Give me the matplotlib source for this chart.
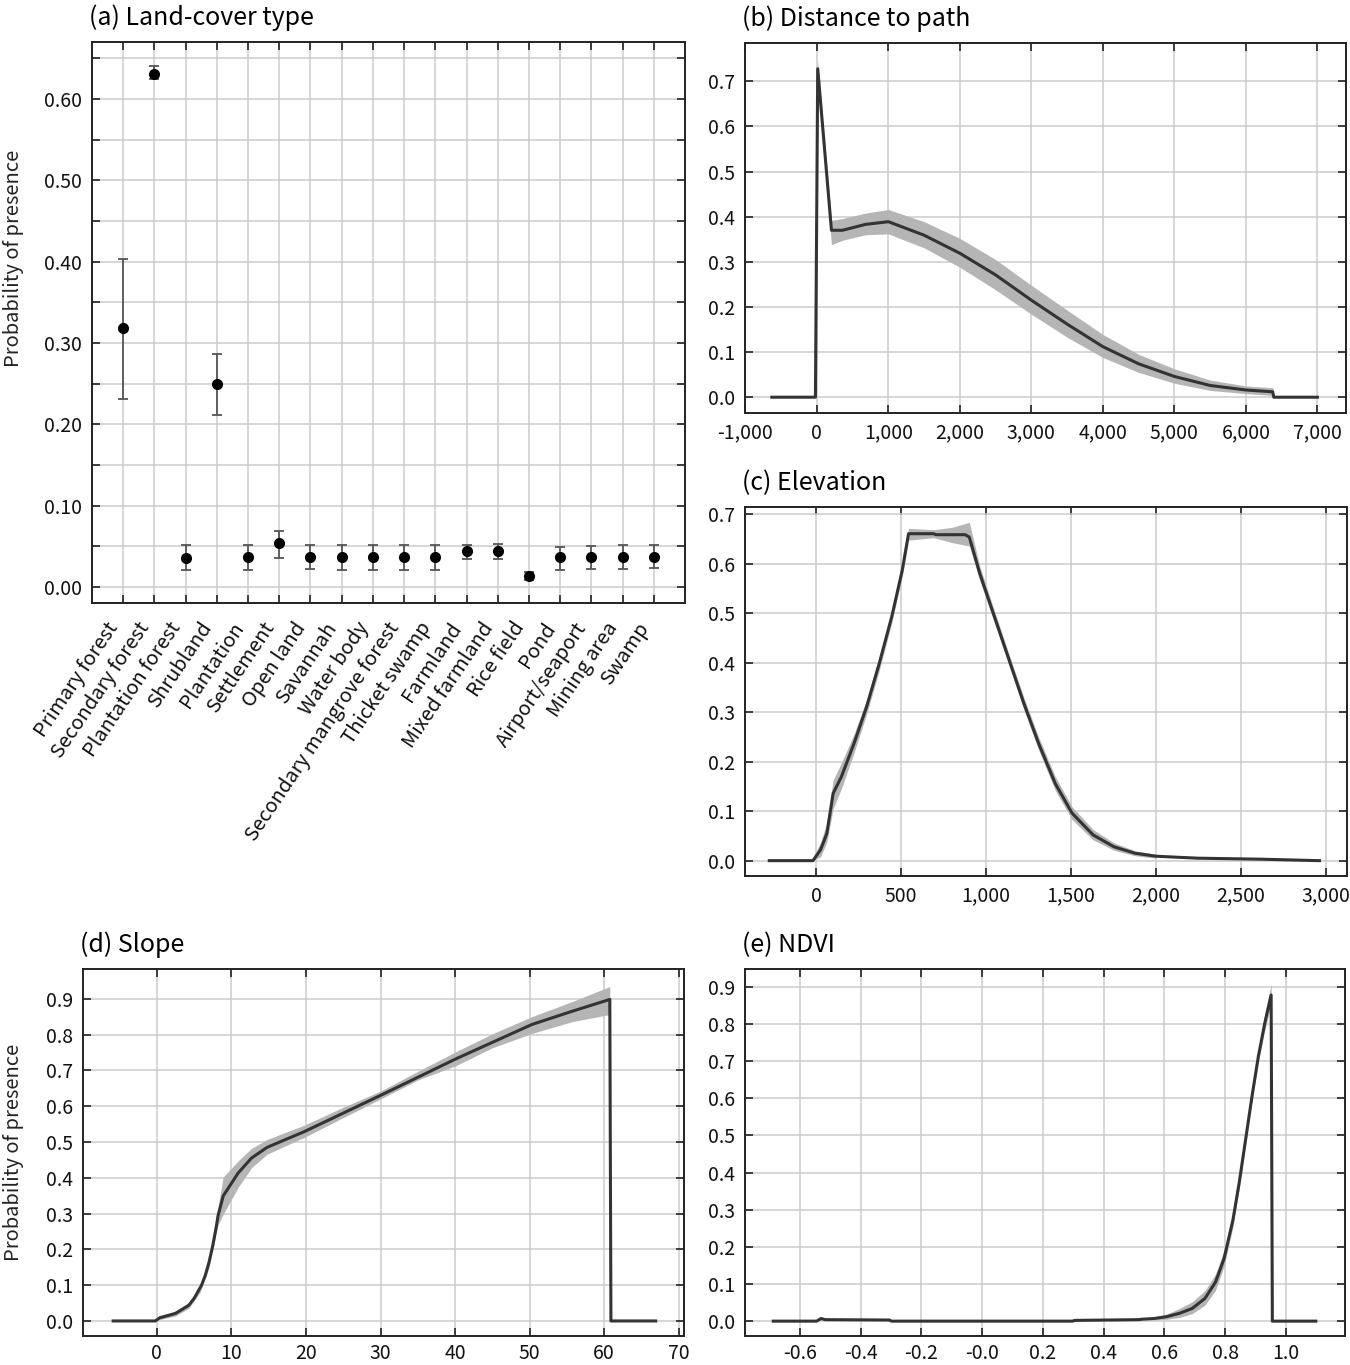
import matplotlib
matplotlib.use('Agg')
import matplotlib.pyplot as plt
from matplotlib.ticker import FixedLocator, MultipleLocator, FuncFormatter

plt.rcParams['font.family'] = ['Noto Sans CJK JP', 'DejaVu Sans']
plt.rcParams['axes.unicode_minus'] = False

# (a) land-cover type: mean and interval
land_types = ['Primary forest', 'Secondary forest', 'Plantation forest', 'Shrubland',
              'Plantation', 'Settlement', 'Open land', 'Savannah', 'Water body',
              'Secondary mangrove forest', 'Thicket swamp', 'Farmland', 'Mixed farmland',
              'Rice field', 'Pond', 'Airport/seaport', 'Mining area', 'Swamp']
land_mean = [0.318, 0.631, 0.036, 0.249, 0.037, 0.054, 0.037, 0.037, 0.037,
             0.037, 0.037, 0.044, 0.044, 0.014, 0.037, 0.037, 0.037, 0.037]
land_lo = [0.231, 0.624, 0.021, 0.211, 0.021, 0.036, 0.022, 0.021, 0.021,
           0.021, 0.021, 0.035, 0.034, 0.009, 0.021, 0.022, 0.022, 0.023]
land_hi = [0.403, 0.640, 0.051, 0.286, 0.051, 0.069, 0.051, 0.051, 0.051,
           0.051, 0.051, 0.051, 0.053, 0.019, 0.049, 0.050, 0.051, 0.051]

# (b) distance to path
dist_x = [-630, -20, 12, 204, 360, 680, 1000, 1500, 2000, 2500, 3000, 3500, 4000,
          4500, 5000, 5500, 6000, 6375, 6390, 7000]
dist_y = [0, 0, 0.728, 0.370, 0.370, 0.383, 0.389, 0.359, 0.319, 0.271, 0.215, 0.162,
          0.112, 0.074, 0.046, 0.026, 0.016, 0.012, 0.0, 0.0]
dist_band_x = [12, 204, 360, 680, 1000, 1500, 2000, 2500, 3000, 3500, 4000, 4500,
               5000, 5500, 6000, 6380]
dist_lo = [0.700, 0.338, 0.348, 0.360, 0.362, 0.331, 0.288, 0.238, 0.184, 0.133,
           0.088, 0.055, 0.031, 0.015, 0.008, 0.004]
dist_hi = [0.748, 0.392, 0.396, 0.408, 0.416, 0.389, 0.352, 0.305, 0.248, 0.193,
           0.139, 0.095, 0.063, 0.038, 0.025, 0.021]

# (c) elevation
elev_x = [-277, -20, 25, 62, 99, 148, 222, 296, 370, 444, 506, 543, 691, 704, 877,
          901, 963, 1049, 1136, 1222, 1309, 1407, 1506, 1630, 1753, 1877, 2000, 2247,
          2617, 2963]
elev_y = [0, 0, 0.022, 0.055, 0.136, 0.170, 0.237, 0.311, 0.398, 0.493, 0.587, 0.661,
          0.661, 0.659, 0.659, 0.654, 0.580, 0.493, 0.405, 0.318, 0.237, 0.156, 0.096,
          0.052, 0.028, 0.015, 0.009, 0.005, 0.003, 0.0]
elev_band_x = [-20, 25, 62, 99, 148, 222, 296, 370, 444, 506, 543, 691, 800, 901,
               963, 1049, 1136, 1222, 1309, 1407, 1506, 1630, 1753, 1877, 2000]
elev_lo = [0, 0.008, 0.038, 0.105, 0.146, 0.218, 0.296, 0.384, 0.481, 0.576, 0.648,
           0.653, 0.643, 0.636, 0.566, 0.481, 0.394, 0.306, 0.224, 0.142, 0.083, 0.042,
           0.021, 0.010, 0.005]
elev_hi = [0.006, 0.037, 0.077, 0.163, 0.198, 0.256, 0.326, 0.412, 0.504, 0.598, 0.672,
           0.669, 0.674, 0.684, 0.595, 0.505, 0.416, 0.330, 0.250, 0.170, 0.109, 0.063,
           0.036, 0.020, 0.013]

# (d) slope
slope_x = [-5.85, -0.2, 0.4, 2.5, 4.3, 5.0, 6.0, 6.5, 7.0, 7.5, 8.0, 8.2, 8.9, 10.9,
           12.7, 14.8, 19.8, 30.0, 40.1, 50.3, 55.7, 60.75, 60.9, 66.9]
slope_y = [0, 0, 0.009, 0.021, 0.044, 0.063, 0.100, 0.127, 0.164, 0.210, 0.266, 0.293,
           0.349, 0.413, 0.455, 0.485, 0.529, 0.630, 0.732, 0.828, 0.865, 0.898, 0.0, 0.0]
slope_band_x = [0.4, 2.5, 4.3, 5.8, 7.0, 8.2, 8.9, 10.9, 12.7, 14.8, 19.8, 25, 30.0,
                35, 40.1, 45, 50.3, 55.7, 60.75]
slope_lo = [0.004, 0.014, 0.036, 0.080, 0.150, 0.268, 0.298, 0.373, 0.428, 0.466,
            0.513, 0.568, 0.620, 0.673, 0.713, 0.763, 0.803, 0.836, 0.856]
slope_hi = [0.014, 0.028, 0.052, 0.100, 0.178, 0.317, 0.402, 0.447, 0.482, 0.507,
            0.547, 0.597, 0.642, 0.697, 0.752, 0.802, 0.850, 0.892, 0.934]

# (e) NDVI
ndvi_x = [-0.687, -0.544, -0.53, -0.516, -0.305, -0.298, 0.298, 0.305, 0.516, 0.523,
          0.565, 0.607, 0.649, 0.691, 0.733, 0.768, 0.796, 0.825, 0.846, 0.867, 0.888,
          0.909, 0.930, 0.951, 0.955, 1.098]
ndvi_y = [0, 0, 0.007, 0.004, 0.003, 0, 0, 0.002, 0.004, 0.005, 0.007, 0.012, 0.021,
          0.034, 0.061, 0.105, 0.168, 0.271, 0.373, 0.489, 0.605, 0.713, 0.802, 0.878,
          0.0, 0.0]
ndvi_band_x = [0.565, 0.607, 0.649, 0.691, 0.733, 0.768, 0.796, 0.825, 0.846, 0.867,
               0.888, 0.909, 0.930, 0.951]
ndvi_lo = [0.003, 0.005, 0.010, 0.020, 0.043, 0.083, 0.148, 0.253, 0.358, 0.476,
           0.593, 0.698, 0.783, 0.853]
ndvi_hi = [0.011, 0.019, 0.034, 0.052, 0.082, 0.127, 0.190, 0.292, 0.390, 0.504,
           0.622, 0.730, 0.827, 0.907]
ndvi_tick_labels = ['-0.6', '-0.4', '-0.2', '-0.0', '0.2', '0.4', '0.6', '0.8', '1.0']

LINE = '#333333'
BAND = '#b5b5b5'
GRID = '#cccccc'
SPINE = '#222222'
W, H = 1350, 1365


def px_axes(fig, left, top, right, bottom):
    return fig.add_axes([left / W, 1 - bottom / H, (right - left) / W, (bottom - top) / H])


def style(ax, title):
    ax.set_axisbelow(True)
    for s in ax.spines.values():
        s.set_color(SPINE)
        s.set_linewidth(1.4)
    ax.tick_params(which='both', direction='in', top=True, right=True, length=6,
                   width=1.2, colors=SPINE, labelsize=14, pad=7, labelcolor='#111111')
    ax.set_title(title, loc='left', fontsize=18, pad=12, x=-0.005)


def response(ax, x, y, bx, lo, hi):
    ax.fill_between(bx, lo, hi, color=BAND, lw=0, zorder=2)
    ax.plot(x, y, color=LINE, lw=2.2, zorder=3)
    ax.grid(True, color=GRID, lw=1.1)


fig = plt.figure(figsize=(W / 100, H / 100), dpi=100)

# (a)
ax = px_axes(fig, 92, 42, 685, 603)
pos = list(range(len(land_types)))
err = [[m - l for m, l in zip(land_mean, land_lo)], [h - m for m, h in zip(land_mean, land_hi)]]
ax.errorbar(pos, land_mean, yerr=err, fmt='o', color='black', ms=7, ecolor='#555555',
            elinewidth=1.3, capsize=3.8, capthick=1.3, zorder=3)
ax.set_xlim(-1, len(land_types))
ax.set_ylim(-0.0197, 0.670)
ax.set_xticks(pos)
ax.set_xticklabels(land_types, rotation=56, ha='right')
ax.yaxis.set_major_locator(MultipleLocator(0.1))
ax.yaxis.set_minor_locator(MultipleLocator(0.05))
ax.yaxis.set_major_formatter(FuncFormatter(lambda v, p: f'{v:.2f}'))
ax.grid(True, which='both', color=GRID, lw=1.1)
style(ax, '(a) Land-cover type')
ax.tick_params(axis='x', labelsize=14.5, pad=11)
ax.set_ylabel('Probability of presence', fontsize=14.5, color='#222222')
ax.yaxis.set_label_coords(-0.115, 0.615)

# (b)
ax = px_axes(fig, 745, 43, 1346, 413)
response(ax, dist_x, dist_y, dist_band_x, dist_lo, dist_hi)
ax.set_xlim(-1005, 7400)
ax.set_ylim(-0.035, 0.785)
ax.xaxis.set_major_locator(MultipleLocator(1000))
ax.xaxis.set_major_formatter(FuncFormatter(lambda v, p: f'{v:,.0f}'))
ax.yaxis.set_major_locator(MultipleLocator(0.1))
ax.yaxis.set_major_formatter(FuncFormatter(lambda v, p: f'{v:.1f}'))
style(ax, '(b) Distance to path')

# (c)
ax = px_axes(fig, 745, 507, 1347, 876)
response(ax, elev_x, elev_y, elev_band_x, elev_lo, elev_hi)
ax.set_xlim(-420, 3125)
ax.set_ylim(-0.031, 0.715)
ax.xaxis.set_major_locator(MultipleLocator(500))
ax.xaxis.set_major_formatter(FuncFormatter(lambda v, p: f'{v:,.0f}'))
ax.yaxis.set_major_locator(MultipleLocator(0.1))
ax.yaxis.set_major_formatter(FuncFormatter(lambda v, p: f'{v:.1f}'))
style(ax, '(c) Elevation')

# (d)
ax = px_axes(fig, 83, 969, 684, 1336)
response(ax, slope_x, slope_y, slope_band_x, slope_lo, slope_hi)
ax.set_xlim(-9.9, 70.7)
ax.set_ylim(-0.042, 0.983)
ax.xaxis.set_major_locator(MultipleLocator(10))
ax.yaxis.set_major_locator(MultipleLocator(0.1))
ax.yaxis.set_major_formatter(FuncFormatter(lambda v, p: f'{v:.1f}'))
style(ax, '(d) Slope')
ax.tick_params(axis='x', pad=5)
ax.set_ylabel('Probability of presence', fontsize=14.5, color='#222222')
ax.yaxis.set_label_coords(-0.098, 0.5)

# (e)
ax = px_axes(fig, 745, 969, 1345, 1336)
response(ax, ndvi_x, ndvi_y, ndvi_band_x, ndvi_lo, ndvi_hi)
ax.set_xlim(-0.78, 1.194)
ax.set_ylim(-0.040, 0.948)
ax.xaxis.set_major_locator(FixedLocator([-0.6, -0.4, -0.2, 0.0, 0.2, 0.4, 0.6, 0.8, 1.0]))
ax.set_xticklabels(ndvi_tick_labels)
ax.yaxis.set_major_locator(MultipleLocator(0.1))
ax.yaxis.set_major_formatter(FuncFormatter(lambda v, p: f'{v:.1f}'))
style(ax, '(e) NDVI')
ax.tick_params(axis='x', pad=5)

fig.savefig('out.png', dpi=100)
